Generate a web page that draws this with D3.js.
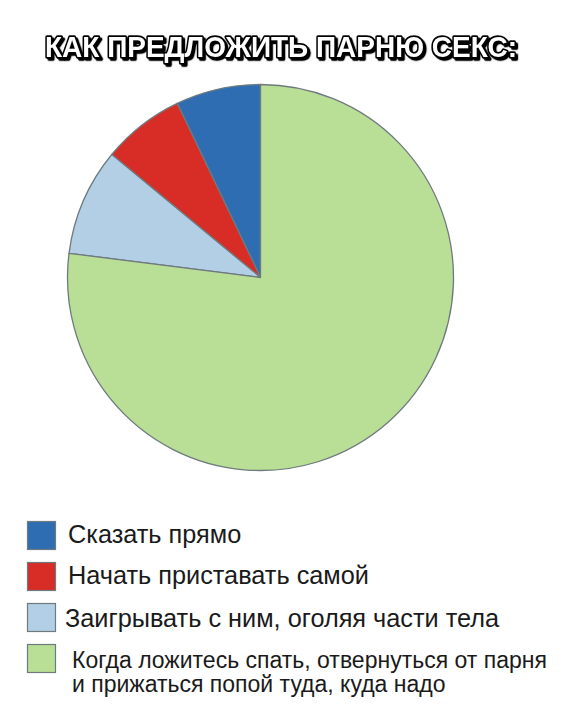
<!DOCTYPE html>
<html><head><meta charset="utf-8">
<script src="https://cdn.jsdelivr.net/npm/d3@7"></script>
<style>html,body{margin:0;padding:0;background:#fff;}</style>
</head><body>
<svg id="c" width="561" height="719"></svg>
<script>
const title = "КАК ПРЕДЛОЖИТЬ ПАРНЮ СЕКС:";
const categories = [
  ["Сказать прямо"],
  ["Начать приставать самой"],
  ["Заигрывать с ним, оголяя части тела"],
  ["Когда ложитесь спать, отвернуться от парня", "и прижаться попой туда, куда надо"]
];
const values = [7.1, 6.9, 9.0, 77.0];
const colors = ["#2f6db3", "#d82c26", "#b2cfe6", "#b9de95"];

const svg = d3.select("#c");
svg.append("rect").attr("width",561).attr("height",719).attr("fill","#fff");

const defs = svg.append("defs");
const f = defs.append("filter").attr("id","sh").attr("x","-5%").attr("y","-30%").attr("width","110%").attr("height","160%");
f.append("feDropShadow").attr("dx",2.2).attr("dy",2.2).attr("stdDeviation",0.3).attr("flood-color","#000").attr("flood-opacity",1);

// Title with outline + shadow
svg.append("text")
  .attr("x",45).attr("y",57)
  .attr("textLength",472).attr("lengthAdjust","spacingAndGlyphs")
  .attr("font-family","Liberation Sans, Arial, sans-serif")
  .attr("font-weight","bold").attr("font-size",30)
  .attr("fill","#fff")
  .attr("stroke","#000").attr("stroke-width",3.4)
  .attr("stroke-linejoin","round")
  .attr("paint-order","stroke")
  .attr("filter","url(#sh)")
  .text(title);

// Pie
const cx = 260.5, cy = 277.5, r = 193;
const pie = d3.pie().sort(null).startAngle(0).endAngle(-2*Math.PI);
const arc = d3.arc().innerRadius(0).outerRadius(r);
svg.append("g").attr("transform",`translate(${cx},${cy})`)
  .selectAll("path").data(pie(values)).join("path")
  .attr("d",arc).attr("fill",(d,i)=>colors[i])
  .attr("stroke","#6e7a7e").attr("stroke-width",1.3).attr("stroke-linejoin","round");

// Legend
const sqY = [521, 562, 603, 644];
const baseY = [543, 584, 627, 668];
const fs = [25.3, 25.3, 25.3, 23];
const tx = [68, 68, 65, 72];
const lg = svg.append("g");
categories.forEach((lines,i)=>{
  lg.append("rect").attr("x",27.5).attr("y",sqY[i]+0.5).attr("width",28).attr("height",28)
    .attr("fill",colors[i]).attr("stroke","#6e7a7e").attr("stroke-width",1.2);
  lines.forEach((t,j)=>{
    lg.append("text").attr("x", tx[i])
      .attr("y", baseY[i] + j*24)
      .attr("font-family","Liberation Sans, Arial, sans-serif")
      .attr("font-size",fs[i]).attr("fill","#1a1a1a")
      .text(t);
  });
});
</script>
</body></html>
